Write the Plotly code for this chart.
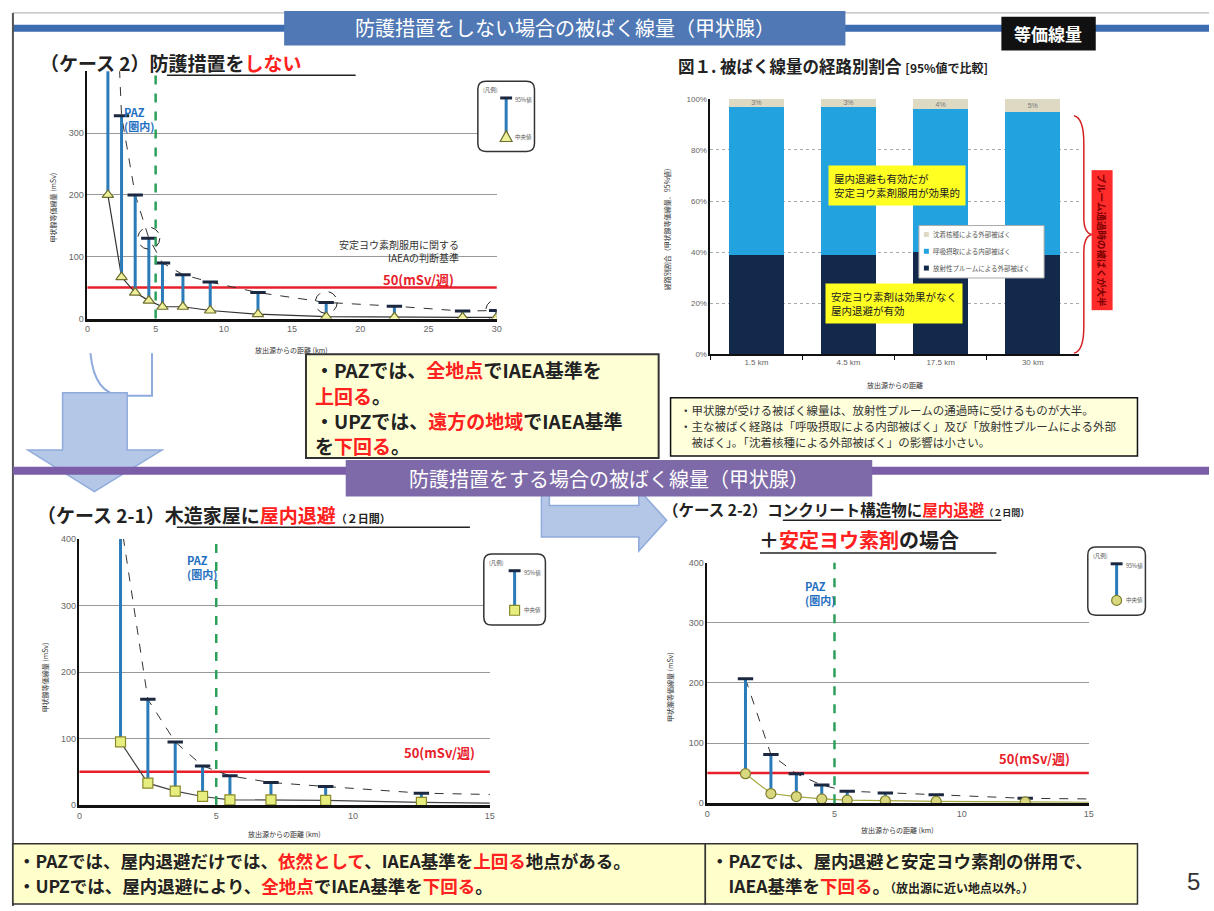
import plotly.graph_objects as go

W, H = 1214, 911
FONT = "Noto Sans CJK JP"

# ケース2: 防護措置をしない (距離 km, 95%値, 中央値 mSv)
case2_km = [1.5, 2.5, 3.5, 4.5, 5.5, 7, 9, 12.5, 17.5, 22.5, 27.5, 30]
case2_p95 = [840, 328, 200, 130, 90, 71, 59, 42, 26, 20, 12, 13]
case2_med = [200, 67, 42, 29, 19, 19, 13, 7, 3, 2, 2, 2]
case2_circled = [3, 8, 11]

# ケース2-1: 木造家屋に屋内退避
case21_km = [1.5, 2.5, 3.5, 4.5, 5.5, 7, 9, 12.5, 17.5]
case21_p95 = [430, 159, 95, 59, 44, 34, 28, 18, 14]
case21_med = [95, 33, 21, 13, 8, 8, 7, 4, 2]

# ケース2-2: コンクリート構造物に屋内退避 + 安定ヨウ素剤
case22_km = [1.5, 2.5, 3.5, 4.5, 5.5, 7, 9, 12.5, 17.5]
case22_p95 = [207, 81, 49, 30, 20, 17, 14, 8, 6]
case22_med = [49, 16, 11, 7, 5, 4, 3, 2, 1]

IAEA_LIMIT = 50
PAZ_KM = 5

# 図1 経路別割合 (%)
route_cats = ["1.5 km", "4.5 km", "17.5 km", "30 km"]
route_plume = [39, 39, 40, 39]
route_inhal = [58, 58, 56, 56]
route_depo = [3, 3, 4, 5]
route_names = ["放射性プルームによる外部被ばく", "呼吸摂取による内部被ばく", "沈着核種による外部被ばく"]
route_colors = ["#13294b", "#22a2df", "#ddd9c3"]


def px(x):
    return x / W


def py(y):
    return 1 - y / H


fig = go.Figure()
shapes = []
notes = []


def rect(x0, y0, x1, y1, fill, line="#333", lw=1.5, layer="above"):
    shapes.append(dict(type="rect", xref="paper", yref="paper", x0=px(x0), x1=px(x1),
                       y0=py(y1), y1=py(y0), fillcolor=fill,
                       line=dict(color=line, width=lw), layer=layer))


def hline(x0, x1, y, color, lw):
    shapes.append(dict(type="line", xref="paper", yref="paper", x0=px(x0), x1=px(x1),
                       y0=py(y), y1=py(y), line=dict(color=color, width=lw)))


def poly(points, fill, line, lw=1.5):
    d = "M " + " L ".join(f"{px(a):.5f},{py(b):.5f}" for a, b in points) + " Z"
    shapes.append(dict(type="path", xref="paper", yref="paper", path=d, fillcolor=fill,
                       line=dict(color=line, width=lw)))


def text(x, y, s, size=10, color="#222", xanchor="left", yanchor="middle", bold=False,
         angle=0, bg=None, align="left", family=FONT, pad=0):
    if bold:
        s = "<b>" + s + "</b>"
    a = dict(xref="paper", yref="paper", x=px(x), y=py(y), text=s, showarrow=False,
             xanchor=xanchor, yanchor=yanchor, textangle=angle, align=align,
             font=dict(family=family, size=size, color=color), borderpad=pad)
    if bg:
        a["bgcolor"] = bg
    notes.append(a)


def red(s):
    return f"<span style='color:#ff2020'>{s}</span>"


def dose_chart(n, km, p95, med, symbol, fill, edge, medline):
    xa, ya = f"x{n}", f"y{n}"
    fig.add_trace(go.Scatter(x=km, y=p95, mode="lines", xaxis=xa, yaxis=ya, showlegend=False,
                             line=dict(color="#333", width=1, dash="dash")))
    fig.add_trace(go.Scatter(x=km, y=med, mode="lines", xaxis=xa, yaxis=ya, showlegend=False,
                             line=dict(color=medline, width=1.2)))
    sx, sy = [], []
    for k, lo, hi in zip(km, med, p95):
        sx += [k, k, None]
        sy += [lo, hi, None]
    fig.add_trace(go.Scatter(x=sx, y=sy, mode="lines", xaxis=xa, yaxis=ya, showlegend=False,
                             line=dict(color="#2b7bb9", width=3)))
    fig.add_trace(go.Scatter(x=km, y=p95, mode="markers", xaxis=xa, yaxis=ya, showlegend=False,
                             marker=dict(symbol="line-ew", size=11,
                                         line=dict(color="#1b2840", width=3))))
    fig.add_trace(go.Scatter(x=km, y=med, mode="markers", xaxis=xa, yaxis=ya, showlegend=False,
                             marker=dict(symbol=symbol, size=10, color=fill,
                                         line=dict(color=edge, width=1.2))))
    # IAEA基準線と PAZ境界
    shapes.append(dict(type="line", xref=f"{xa} domain", yref=ya, x0=0, x1=1,
                       y0=IAEA_LIMIT, y1=IAEA_LIMIT, line=dict(color="#e8202a", width=2.5),
                       layer="below"))
    shapes.append(dict(type="line", xref=xa, yref=f"{ya} domain", x0=PAZ_KM, x1=PAZ_KM,
                       y0=0, y1=1, line=dict(color="#2ca05a", width=2.5, dash="dash")))


def axis_x(dom, rng, dtick):
    return dict(domain=dom, range=rng, dtick=dtick, showline=True, linecolor="#111",
                linewidth=2.5, showgrid=False, zeroline=False, ticks="",
                tickfont=dict(size=9, color="#666", family="Liberation Sans"))


def axis_y(dom, anchor, vals=(0, 100, 200, 300, 400)):
    return dict(domain=dom, range=[0, 400], tickvals=list(vals), showline=True, linecolor="#111",
                linewidth=1.5, showgrid=True, gridcolor="#999", gridwidth=1, zeroline=False,
                anchor=anchor, tickfont=dict(size=9, color="#666", family="Liberation Sans"))


# ---- ケース2 (top-left)
dose_chart("", case2_km, case2_p95, case2_med, "triangle-up", "#eef09a", "#6e6e30", "#333")
for i in case2_circled:
    shapes.append(dict(type="circle", xref="x", yref="y", xsizemode="pixel", ysizemode="pixel",
                       xanchor=case2_km[i], yanchor=case2_p95[i], x0=-11, x1=11, y0=-11, y1=11,
                       line=dict(color="#222", width=1, dash="dash")))

# ---- ケース2-1 (bottom-left)
dose_chart("3", case21_km, case21_p95, case21_med, "square", "#e6ee80", "#8a8a2a", "#444")

# ---- ケース2-2 (bottom-right)
dose_chart("4", case22_km, case22_p95, case22_med, "circle", "#d9d87e", "#7f7f30", "#a8a840")

# ---- 図1 経路別割合 (top-right)
for vals, name, col in zip([route_plume, route_inhal, route_depo], route_names, route_colors):
    kw = {}
    if vals is route_depo:
        kw = dict(text=[f"{v}%" for v in vals], textposition="inside", constraintext="none",
                  insidetextanchor="middle",
                  insidetextfont=dict(size=7, color="#777", family="Liberation Sans"))
    fig.add_trace(go.Bar(x=route_cats, y=vals, name=name, marker=dict(color=col, line=dict(width=0)),
                         width=0.6, xaxis="x2", yaxis="y2", showlegend=False, **kw))

fig.update_layout(
    width=W, height=H, margin=dict(l=0, r=0, t=0, b=0),
    paper_bgcolor="white", plot_bgcolor="white", barmode="stack",
    font=dict(family=FONT),
    xaxis=axis_x([px(85), px(497)], [0, 30], 5),
    yaxis=axis_y([py(317), py(67)], "x", (0, 100, 200, 300)),
    xaxis3=axis_x([px(77), px(490)], [0, 15], 5) | dict(anchor="y3"),
    yaxis3=axis_y([py(809), py(540)], "x3"),
    xaxis4=axis_x([px(709), px(1093)], [0, 15], 5) | dict(anchor="y4"),
    yaxis4=axis_y([py(807), py(564)], "x4"),
    xaxis2=dict(domain=[px(712), px(1083)], anchor="y2", type="category", showline=True,
                linecolor="#111", linewidth=1.5, ticks="outside", tickson="boundaries",
                ticklen=4, tickcolor="#111",
                tickfont=dict(size=8, color="#666", family="Liberation Sans")),
    yaxis2=dict(domain=[py(353), py(95)], anchor="x2", range=[0, 100], dtick=20, ticksuffix="%",
                showline=True, linecolor="#111", linewidth=1.5, gridcolor="#aaa",
                griddash="dot", zeroline=False,
                tickfont=dict(size=8, color="#666", family="Liberation Sans")),
)

# ---- header bands
hline(10, W, 8, "#aaa", 1)
rect(10, 20, W, 27, "#3c6db0", line="#3c6db0", lw=0)
rect(283, 6, 848, 41, "#5078b4", line="#5078b4", lw=0)
text(566, 23, "防護措置をしない場合の被ばく線量（甲状腺）", size=20, color="white", xanchor="center")
rect(1005, 12, 1100, 46, "#111", line="#111", lw=0)
text(1052, 29, "等価線量", size=17, color="white", xanchor="center", bold=True)
shapes.append(dict(type="line", xref="paper", yref="paper", x0=px(10), x1=px(10), y0=0, y1=py(8),
                   line=dict(color="#555", width=2)))

# ---- titles
text(36, 58, "（ケース 2）防護措置を" + red("しない"), size=19, bold=True)
hline(165, 355, 71, "#222", 1.5)
text(33, 515, "（ケース 2-1）木造家屋に" + red("屋内退避") + "<span style='font-size:11px'>（２日間）</span>",
     size=19, bold=True)
hline(175, 470, 528, "#222", 1.5)
text(663, 510, "（ケース 2-2）コンクリート構造物に" + red("屋内退避") +
     "<span style='font-size:9px'>（２日間）</span>", size=15.5, bold=True)
hline(785, 1005, 521, "#222", 1.5)
text(760, 540, "＋" + red("安定ヨウ素剤") + "の場合", size=20, bold=True)
hline(762, 1000, 554, "#222", 1.5)
text(678, 62, "図１. 被ばく線量の経路別割合 <span style='font-size:12px'>[95%値で比較]</span>",
     size=16.5, bold=True)

# ---- chart labels
for xc, yc in [(137, 115), (200, 568), (822, 595)]:
    text(xc, yc, "PAZ<br>(圏内)", size=11, color="#1f6fc0", xanchor="center", bold=True)
text(460, 249, "安定ヨウ素剤服用に関する<br>IAEAの判断基準", size=10, color="#333",
     xanchor="right", align="right")
text(455, 278, "50(mSv/週)", size=13, color="#e8202a", xanchor="right", bold=True)
text(476, 756, "50(mSv/週)", size=13, color="#e8202a", xanchor="right", bold=True)
text(1075, 762, "50(mSv/週)", size=13, color="#e8202a", xanchor="right", bold=True)
text(50, 205, "甲状腺等価線量 (mSv)", size=7, color="#333", xanchor="center", angle=-90)
text(42, 680, "甲状腺等価線量 (mSv)", size=7, color="#333", xanchor="center", angle=-90)
text(672, 690, "甲状腺等価線量 (mSv)", size=7, color="#333", xanchor="center", angle=-90)
text(668, 225, "経路別割合（甲状腺等価線量、95%値）", size=7, color="#333", xanchor="center", angle=-90)
text(290, 349, "放出源からの距離 (km)", size=7, color="#333", xanchor="center")
text(283, 838, "放出源からの距離 (km)", size=7, color="#333", xanchor="center")
text(900, 834, "放出源からの距離 (km)", size=7, color="#333", xanchor="center")
text(898, 384, "放出源からの距離", size=7, color="#333", xanchor="center")


# legend boxes (凡例)
def legend_box(x0, y0, x1, y1, symbol):
    r = 8
    d = (f"M {px(x0 + r)},{py(y0)} L {px(x1 - r)},{py(y0)} Q {px(x1)},{py(y0)} {px(x1)},{py(y0 + r)} "
         f"L {px(x1)},{py(y1 - r)} Q {px(x1)},{py(y1)} {px(x1 - r)},{py(y1)} "
         f"L {px(x0 + r)},{py(y1)} Q {px(x0)},{py(y1)} {px(x0)},{py(y1 - r)} "
         f"L {px(x0)},{py(y0 + r)} Q {px(x0)},{py(y0)} {px(x0 + r)},{py(y0)} Z")
    shapes.append(dict(type="path", xref="paper", yref="paper", path=d, fillcolor="white",
                       line=dict(color="#333", width=1.5)))
    cx = x0 + (x1 - x0) * 0.5
    ct, cb = y0 + 17, y1 - 15
    shapes.append(dict(type="line", xref="paper", yref="paper", x0=px(cx), x1=px(cx),
                       y0=py(ct), y1=py(cb), line=dict(color="#2b7bb9", width=3)))
    hline(cx - 6, cx + 6, ct, "#1b2840", 3)
    if symbol == "tri":
        poly([(cx - 6, cb + 5), (cx + 6, cb + 5), (cx, cb - 6)], "#eef09a", "#6e6e30", 1.2)
    elif symbol == "sq":
        rect(cx - 5, cb - 5, cx + 5, cb + 5, "#e6ee80", line="#8a8a2a", lw=1.2)
    else:
        shapes.append(dict(type="circle", xref="paper", yref="paper", x0=px(cx - 5), x1=px(cx + 5),
                           y0=py(cb + 5), y1=py(cb - 5), fillcolor="#d9d87e",
                           line=dict(color="#7f7f30", width=1.2)))
    text(x0 + 4, y0 + 9, "(凡例)", size=5.5, color="#555")
    text(cx + 8, ct + 2, "95%値", size=5.5, color="#555")
    text(cx + 8, cb, "中央値", size=5.5, color="#555")


legend_box(478, 77, 535, 148, "tri")
legend_box(484, 555, 546, 627, "sq")
legend_box(1092, 548, 1150, 617, "ci")

# ---- 図1 annotations
text(900, 182, "屋内退避も有効だが<br>安定ヨウ素剤服用が効果的", size=10.5, color="#222",
     xanchor="center", bg="#ffff22", pad=5)
text(897, 302, "安定ヨウ素剤は効果がなく<br>屋内退避が有効", size=10.5, color="#222",
     xanchor="center", bg="#ffff22", pad=5)
# route legend (drawn by hand to keep it compact)
rect(922, 223, 1048, 276, "white", line="#aaa", lw=1)
for k, (name, col) in enumerate(zip(route_names[::-1], route_colors[::-1])):
    yk = 232 + 17 * k
    rect(927, yk - 2.5, 932, yk + 2.5, col, line=col, lw=0)
    text(935, yk, name, size=6.5, color="#555")
shapes.append(dict(type="path", xref="paper", yref="paper",
                   path=(f"M {px(1078)},{py(112)} Q {px(1088)},{py(114)} {px(1088)},{py(140)} "
                         f"L {px(1088)},{py(215)} Q {px(1088)},{py(230)} {px(1096)},{py(232)} "
                         f"Q {px(1088)},{py(234)} {px(1088)},{py(250)} L {px(1088)},{py(325)} "
                         f"Q {px(1088)},{py(350)} {px(1078)},{py(352)}"),
                   line=dict(color="#d42020", width=1.5)))
text(1106, 238, "プルーム通過時の被ばくが大半", size=9.5, color="#7a0000", xanchor="center",
     angle=90, bg="#ff2a2a", pad=3, bold=True)

# ---- note boxes
rect(672, 397, 1142, 456, "#ffffdc", line="#111", lw=1.5)
for k, ln in enumerate(["・甲状腺が受ける被ばく線量は、放射性プルームの通過時に受けるものが大半。",
                        "・主な被ばく経路は「呼吸摂取による内部被ばく」及び「放射性プルームによる外部",
                        "　被ばく」。「沈着核種による外部被ばく」の影響は小さい。"]):
    text(680, 410 + 16 * k, ln, size=11.5, color="#333")

rect(305, 353, 660, 458, "#ffffd6", line="#333", lw=2)
for k, ln in enumerate(["・PAZでは、" + red("全地点") + "でIAEA基準を",
                        red("上回る") + "。",
                        "・UPZでは、" + red("遠方の地域") + "でIAEA基準",
                        "を" + red("下回る") + "。"]):
    text(313, 369 + 25.5 * k, ln, size=19, color="#222", bold=True)

rect(10, 848, 707, 909, "#ffffcc", line="#333", lw=1.5)
text(14, 865, "・PAZでは、屋内退避だけでは、" + red("依然として") + "、IAEA基準を" + red("上回る") +
     "地点がある。", size=17.5, color="#222", bold=True)
text(14, 890, "・UPZでは、屋内退避により、" + red("全地点") + "でIAEA基準を" + red("下回る") + "。",
     size=17.5, color="#222", bold=True)
rect(707, 848, 1142, 909, "#ffffcc", line="#333", lw=1.5)
text(712, 865, "・PAZでは、屋内退避と安定ヨウ素剤の併用で、", size=17.5, color="#222", bold=True)
text(712, 890, "　IAEA基準を" + red("下回る") + "。<span style='font-size:12px'>（放出源に近い地点以外。）</span>",
     size=17.5, color="#222", bold=True)
text(1198, 886, "5", size=24, color="#333", xanchor="center", family="Liberation Sans")

# ---- arrows
shapes.append(dict(type="path", xref="paper", yref="paper",
                   path=f"M {px(88)},{py(352)} Q {px(92)},{py(394)} {px(120)},{py(395)} L {px(150)},{py(395)} L {px(150)},{py(352)}",
                   line=dict(color="#8faadc", width=2)))
poly([(60, 392), (125, 392), (125, 450), (160, 450), (92, 492), (25, 450), (60, 450)],
     "#b4c7e7", "#8faadc", 1.5)
poly([(542, 495), (550, 495), (550, 506), (640, 506), (640, 490), (668, 521), (640, 552),
      (640, 538), (542, 538)], "#b4c7e7", "#8faadc", 1.5)

# ---- purple band
rect(10, 467, W, 475, "#7b5ea7", line="#7b5ea7", lw=0)
rect(345, 460, 875, 497, "#7e6aa8", line="#7e6aa8", lw=0)
text(610, 479, "防護措置をする場合の被ばく線量（甲状腺）", size=20, color="white", xanchor="center")

fig.update_layout(shapes=shapes, annotations=notes)
fig.write_html("out.html", config={"displayModeBar": False},
               post_script="document.body.style.margin='0';")
